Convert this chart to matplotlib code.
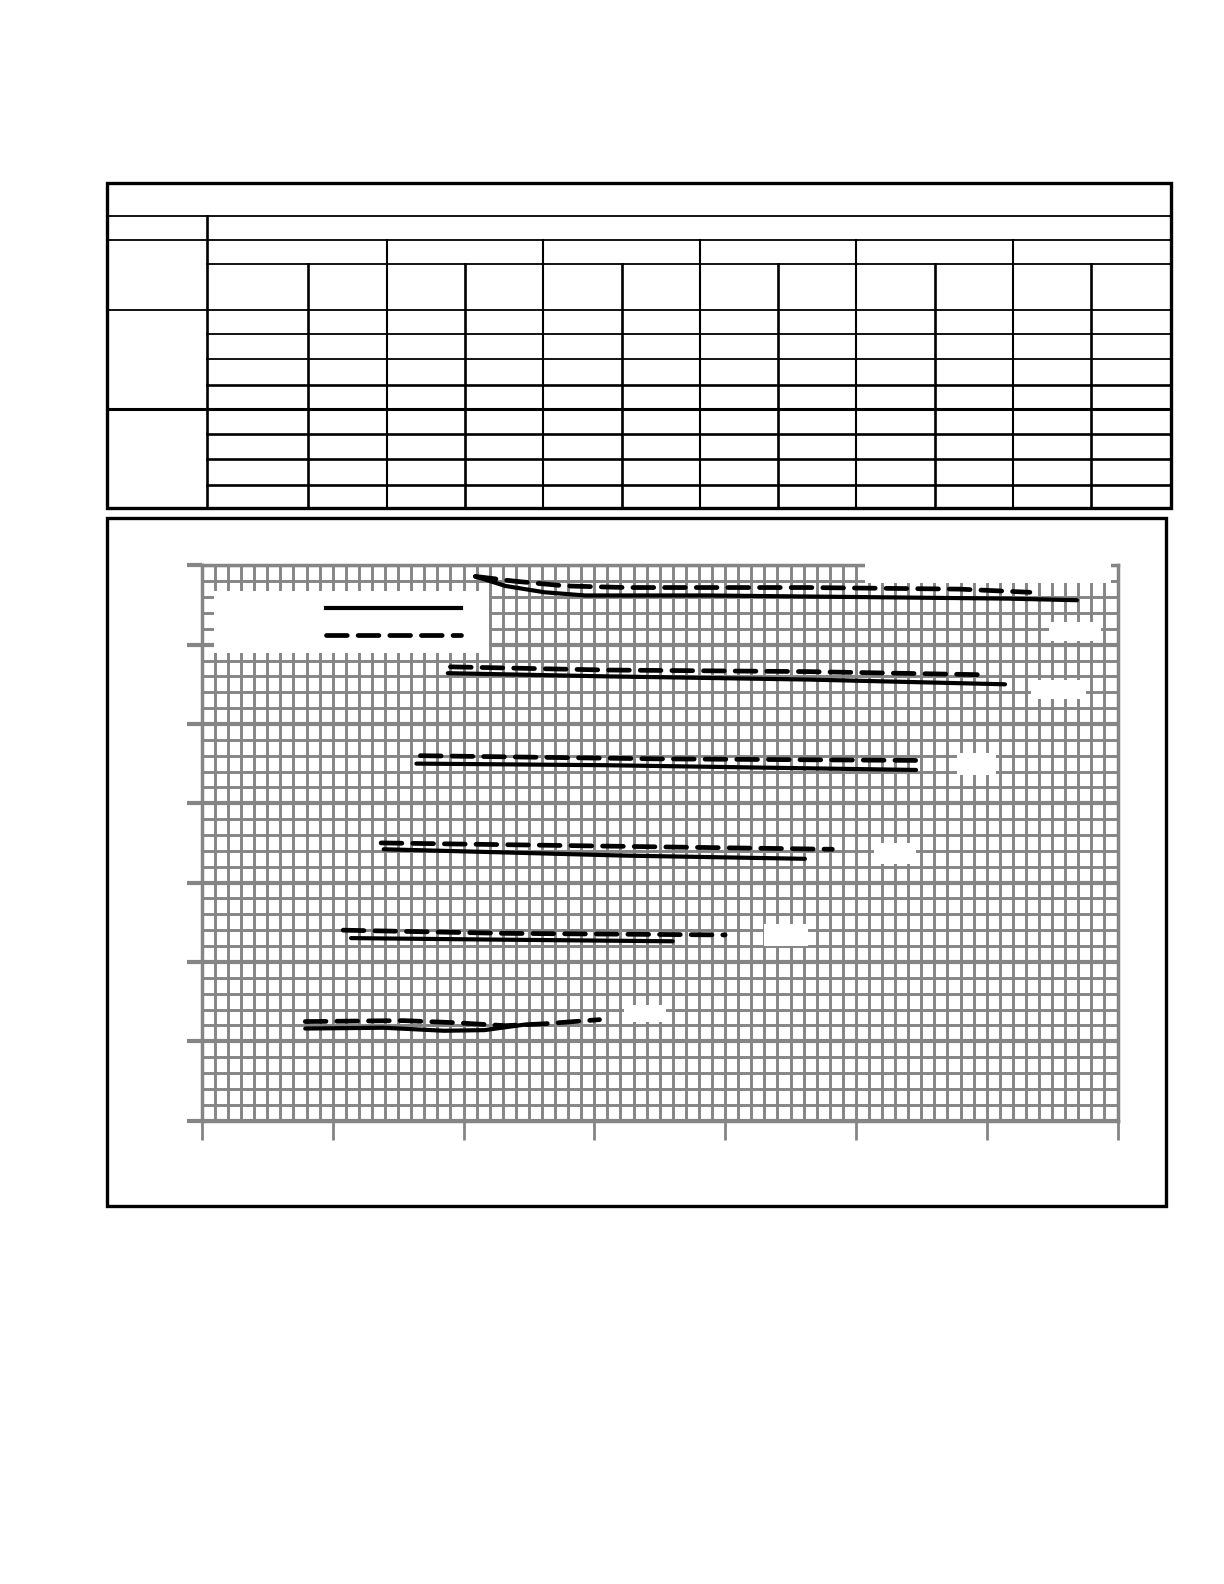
import matplotlib
matplotlib.use("Agg")
import matplotlib.pyplot as plt
from matplotlib.patches import Rectangle
from matplotlib.lines import Line2D

# series (x, y in axis units)
s1_x = [20.9, 23.2, 26.2, 29.3, 38.6, 50.2, 61.7, 66.9]
s1_y = [34.3, 33.7, 33.3, 33.1, 33.1, 33.0, 32.9, 32.8]
d1_x = [20.9, 23.9, 27.8, 32.4, 46.3, 57.9, 63.3]
d1_y = [34.3, 34.0, 33.7, 33.6, 33.6, 33.5, 33.3]

s2_x = [18.8, 30.9, 46.3, 61.4]
s2_y = [28.2, 28.0, 27.8, 27.5]
d2_x = [19.0, 30.9, 46.3, 59.8]
d2_y = [28.6, 28.4, 28.3, 28.1]

s3_x = [16.4, 30.9, 54.6]
s3_y = [22.5, 22.4, 22.1]
d3_x = [16.7, 34.7, 54.9]
d3_y = [23.0, 22.8, 22.7]

s4_x = [13.9, 23.2, 32.4, 46.1]
s4_y = [17.1, 16.9, 16.7, 16.5]
d4_x = [13.7, 30.9, 48.2]
d4_y = [17.5, 17.3, 17.1]

s5_x = [11.4, 23.2, 36.0]
s5_y = [11.5, 11.4, 11.3]
d5_x = [10.8, 23.2, 40.0]
d5_y = [12.0, 11.8, 11.7]

s6_x = [7.9, 13.9, 18.5, 21.6, 24.7]
s6_y = [5.8, 5.85, 5.66, 5.7, 6.05]
d6_x = [7.9, 15.4, 19.3, 23.2, 26.2, 30.4]
d6_y = [6.24, 6.3, 6.17, 5.98, 6.1, 6.36]

solid = [(s1_x, s1_y), (s2_x, s2_y), (s3_x, s3_y), (s4_x, s4_y), (s5_x, s5_y), (s6_x, s6_y)]
dashed = [(d1_x, d1_y), (d2_x, d2_y), (d3_x, d3_y), (d4_x, d4_y), (d5_x, d5_y), (d6_x, d6_y)]

W, H = 1224, 1584
K = 1.0095  # layout scale
fig = plt.figure(figsize=(W / 100, H / 100), dpi=100)

# page layer in pixel coords for the table and frame
page = fig.add_axes([0, 0, 1, 1])
page.set_xlim(0, W / K)
page.set_ylim(H / K, 0)
page.axis("off")

def hline(y, x0, x1, lw=1.3):
    page.add_line(Line2D([x0, x1], [y, y], color="black", lw=lw))

def vline(x, y0, y1, lw=1.3):
    page.add_line(Line2D([x, x], [y0, y1], color="black", lw=lw))

# table
L, R, T, B = 106, 1160, 181, 503
page.add_patch(Rectangle((L, T), R - L, B - T, fill=False, ec="black", lw=2.4))
hline(214, L, R)
hline(238, L, R)
vline(205, 214, B, 1.9)
hline(262, 205, R)
for x in [383, 538, 693, 848, 1003]:
    vline(x, 238, B, 1.5)
for x in [305, 461, 616, 771, 926, 1081]:
    vline(x, 262, B, 1.9)
hline(307, L, R)
for y in [331, 356]:
    hline(y, 205, R)
for y in [381, 430, 455, 480]:
    hline(y, 205, R, 1.9)
hline(405, L, R, 2.2)

# chart frame
page.add_patch(Rectangle((106, 513), 1155 - 106, 1195 - 513, fill=False, ec="black", lw=2.4))

# plot area
px0, px1, py0, py1 = 200 * K, 1107 * K, 560 * K, 1110 * K
ax = fig.add_axes([px0 / W, 1 - py1 / H, (px1 - px0) / W, (py1 - py0) / H])
ax.set_xlim(0, 70)
ax.set_ylim(0, 35)
ax.set_facecolor("none")
grey = "#858585"
ax.set_xticks(range(0, 71, 10))
ax.set_xticks(range(0, 71, 1), minor=True)
ax.set_yticks(range(0, 36, 5))
ax.set_yticks(range(0, 36, 1), minor=True)
ax.set_xticklabels([])
ax.set_yticklabels([])
ax.set_axisbelow(True)
ax.grid(which="minor", color=grey, lw=2.1)
ax.grid(which="major", axis="x", color=grey, lw=2.1)
ax.grid(which="major", axis="y", color=grey, lw=3.0)
ax.tick_params(which="minor", length=0)
ax.tick_params(axis="y", which="major", length=11, width=3.0, color=grey, direction="out")
ax.tick_params(axis="x", which="major", length=14, width=2.0, color=grey, direction="out")
for sp in ax.spines.values():
    sp.set_color(grey)
    sp.set_linewidth(2.5)

for x, y in solid:
    ax.plot(x, y, color="black", lw=3.0, solid_capstyle="round", zorder=4)
for x, y in dashed:
    ax.plot(x, y, color="black", lw=3.4, dashes=(4.4, 2.3), dash_capstyle="round", zorder=4)

# blanked label boxes
label_boxes = [(50.7, 69.5, 33.86, 35.7), (64.8, 68.7, 30.2, 31.4), (63.4, 67.6, 26.6, 27.8),
               (57.7, 60.7, 21.8, 23.2), (51.4, 54.6, 16.2, 17.5), (43.0, 46.3, 11.0, 12.4),
               (32.3, 35.5, 6.24, 7.3)]
for x0, x1, y0, y1 in label_boxes:
    ax.add_patch(Rectangle((x0, y0), x1 - x0, y1 - y0, fc="white", ec="none", zorder=3, clip_on=False))

# legend box
ax.add_patch(Rectangle((0.93, 29.5), 21.0, 3.9, fc="white", ec="none", zorder=3))
ax.plot([9.5, 19.8], [32.3, 32.3], color="black", lw=3.0, zorder=4)
ax.plot([9.5, 19.8], [30.6, 30.6], color="black", lw=3.4, dashes=(4.4, 2.3), dash_capstyle="round", zorder=4)

fig.savefig("out.png", dpi=100)
